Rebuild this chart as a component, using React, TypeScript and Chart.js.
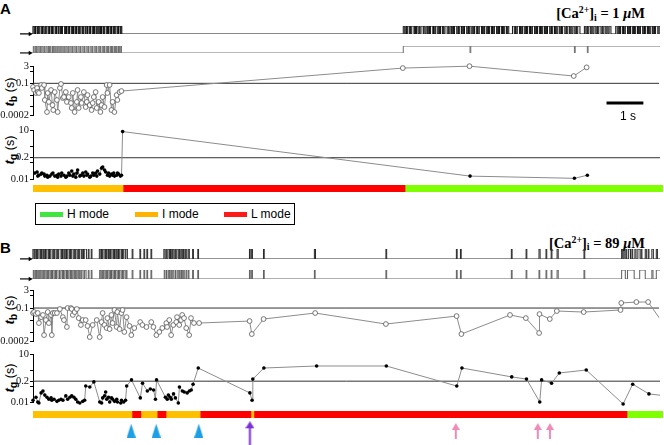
import React, { useEffect, useRef } from 'react';
import { Chart, registerables } from 'chart.js';

Chart.register(...registerables);

// ---------- time axis ----------
const XMAX = 17; // seconds across the plot width
const PLOT_LEFT = 33;
const PLOT_RIGHT_PAD = 1;
const ARROW_LEFT = 20;
const PX_PER_S = (664 - PLOT_LEFT - PLOT_RIGHT_PAD) / XMAX;
const TRACE_XMIN = -(PLOT_LEFT - ARROW_LEFT) / PX_PER_S;

// ---------- axis ticks ----------
const tbTicks = [3, 1, 0.1, 0.01, 0.001, 0.0002];
const tbLabels = [3, 0.1, 0.0002];
const tgTicks = [10, 1, 0.2, 0.1, 0.01];
const tgLabels = [10, 0.2, 0.01];
const tbThreshold = 0.1;
const tgThreshold = 0.2;

// ---------- modes ----------
const modeKeys = ['H', 'I', 'L'];
const modeNames = ['H mode', 'I mode', 'L mode'];
const modeBarColors: Record<string, string> = { H: '#7fff00', I: '#ffc000', L: '#ff0000' };
const modeLegendColors: Record<string, string> = { H: '#40e640', I: '#ffb300', L: '#ff1a1a' };

const aModeStarts = [0, 2.43, 10.04];
const aModeEnds = [2.43, 10.04, 17];
const aModeKinds = ['I', 'L', 'H'];

const bModeStarts = [0, 2.67, 2.91, 3.35, 3.59, 4.51, 5.88, 5.96, 16.03];
const bModeEnds = [2.67, 2.91, 3.35, 3.59, 4.51, 5.88, 5.96, 16.03, 17];
const bModeKinds = ['I', 'L', 'I', 'L', 'I', 'L', 'I', 'L', 'H'];

// ---------- markers under panel B ----------
const blueTriangleTimes = [2.67, 3.35, 4.51];
const purpleArrowTimes = [5.9];
const pinkArrowTimes = [11.5, 13.73, 14.06];

// ---------- scale bar ----------
const scaleBarStart = 15.57;
const scaleBarLength = 1; // s
const scaleBarLevel = 0.0021;

// ---------- single-channel traces: open intervals [start, end] (s) ----------
const aTrace1 = [
  [0.0, 0.03], [0.05, 0.07], [0.08, 0.12], [0.14, 0.16], [0.17, 0.22], [0.24, 0.26], [0.27, 0.3], [0.33, 0.35],
  [0.36, 0.41], [0.43, 0.45], [0.46, 0.5], [0.52, 0.53], [0.55, 0.6], [0.62, 0.64], [0.65, 0.69], [0.71, 0.75],
  [0.77, 0.78], [0.8, 0.86], [0.88, 0.9], [0.91, 0.95], [0.97, 0.99], [1.0, 1.05], [1.07, 1.09], [1.1, 1.14],
  [1.16, 1.18], [1.19, 1.23], [1.25, 1.27], [1.28, 1.33], [1.35, 1.36], [1.38, 1.42], [1.44, 1.47], [1.48, 1.52],
  [1.54, 1.56], [1.57, 1.62], [1.64, 1.65], [1.67, 1.71], [1.73, 1.76], [1.77, 1.81], [1.83, 1.85], [1.86, 1.9],
  [1.92, 1.93], [1.95, 2.0], [2.02, 2.04], [2.05, 2.09], [2.11, 2.13], [2.14, 2.18], [2.2, 2.22], [2.23, 2.28],
  [2.3, 2.32], [2.33, 2.37], [2.39, 2.41],
  [10.04, 10.08], [10.11, 10.13], [10.15, 10.2], [10.22, 10.24], [10.27, 10.33], [10.35, 10.37], [10.4, 10.44],
  [10.47, 10.49], [10.52, 10.58], [10.6, 10.63], [10.66, 10.7], [10.73, 10.75], [10.78, 10.84], [10.86, 10.88],
  [10.91, 10.96], [10.99, 11.02], [11.05, 11.1], [11.12, 11.14], [11.17, 11.23], [11.26, 11.28], [11.31, 11.35],
  [11.38, 11.4], [11.43, 11.49], [11.52, 11.54], [11.57, 11.62], [11.64, 11.67], [11.7, 11.76], [11.79, 11.81],
  [11.84, 11.88], [11.91, 11.94], [11.97, 12.02], [12.05, 12.07], [12.1, 12.16], [12.19, 12.21], [12.24, 12.29],
  [12.32, 12.35], [12.38, 12.43], [12.46, 12.48], [12.51, 12.57], [12.6, 12.62], [12.65, 12.7], [12.73, 12.76],
  [12.79, 12.84], [12.87, 12.9], [13.0, 13.05], [13.08, 13.1], [13.13, 13.19], [13.22, 13.24], [13.27, 13.32],
  [13.35, 13.38], [13.41, 13.46], [13.49, 13.51], [13.54, 13.6], [13.63, 13.65], [13.68, 13.73], [13.76, 13.79],
  [13.82, 13.87], [13.9, 13.92], [13.95, 14.01], [14.04, 14.06], [14.09, 14.14], [14.17, 14.2], [14.23, 14.28],
  [14.31, 14.33], [14.36, 14.42], [14.45, 14.47], [14.5, 14.55], [14.58, 14.61], [14.64, 14.69], [14.72, 14.74],
  [14.77, 14.83], [14.95, 14.99], [15.02, 15.04], [15.07, 15.12], [15.15, 15.18], [15.21, 15.26], [15.29, 15.31],
  [15.34, 15.4], [15.43, 15.45], [15.48, 15.53], [15.56, 15.59], [15.62, 15.67], [15.8, 15.84], [15.87, 15.9],
  [15.93, 15.98], [16.01, 16.03], [16.06, 16.12], [16.15, 16.17], [16.2, 16.25], [16.28, 16.31], [16.34, 16.39],
  [16.42, 16.44], [16.47, 16.53], [16.56, 16.58], [16.61, 16.66], [16.69, 16.72], [16.75, 16.8], [16.83, 16.85],
  [16.88, 16.94], [16.97, 17.0],
];

const aTrace2 = [
  [0.01, 0.03], [0.06, 0.08], [0.1, 0.11], [0.14, 0.17], [0.2, 0.21], [0.24, 0.27], [0.3, 0.31], [0.35, 0.38],
  [0.41, 0.42], [0.45, 0.48], [0.52, 0.53], [0.56, 0.59], [0.62, 0.63], [0.67, 0.7], [0.73, 0.74], [0.78, 0.81],
  [0.84, 0.85], [0.89, 0.92], [0.95, 0.96], [1.0, 1.03], [1.06, 1.07], [1.11, 1.14], [1.17, 1.18], [1.22, 1.25],
  [1.28, 1.29], [1.33, 1.36], [1.39, 1.4], [1.44, 1.47], [1.5, 1.51], [1.55, 1.58], [1.61, 1.62], [1.66, 1.69],
  [1.72, 1.73], [1.77, 1.8], [1.83, 1.84], [1.88, 1.91], [1.94, 1.95], [1.99, 2.02], [2.05, 2.06], [2.1, 2.13],
  [2.16, 2.17], [2.21, 2.24], [2.27, 2.28], [2.32, 2.35], [2.38, 2.4],
  [10.04, 11.85], [11.87, 14.68], [14.7, 15.03], [15.05, 17.5],
];

const bTrace1 = [
  [0.0, 0.03], [0.05, 0.08], [0.1, 0.12], [0.14, 0.19], [0.21, 0.23], [0.25, 0.29], [0.32, 0.34], [0.36, 0.41],
  [0.43, 0.45], [0.47, 0.52], [0.55, 0.57], [0.59, 0.63], [0.66, 0.68], [0.7, 0.76], [0.78, 0.8], [0.82, 0.86],
  [0.89, 0.91], [0.93, 0.98], [1.0, 1.02], [1.04, 1.09], [1.12, 1.14], [1.16, 1.2], [1.23, 1.25], [1.27, 1.32],
  [1.35, 1.37], [1.39, 1.45],
  [1.5, 1.52], [1.58, 1.6],
  [1.8, 1.84], [1.86, 1.88], [1.9, 1.95], [1.97, 1.99], [2.01, 2.05], [2.08, 2.1], [2.12, 2.17], [2.19, 2.21],
  [2.23, 2.27], [2.3, 2.32], [2.34, 2.39], [2.41, 2.43], [2.45, 2.5], [2.52, 2.56],
  [2.69, 2.71], [2.9, 2.92], [3.01, 3.03], [3.09, 3.11], [3.2, 3.22],
  [3.55, 3.58], [3.61, 3.63], [3.66, 3.7], [3.73, 3.75], [3.78, 3.82], [3.85, 3.87], [3.9, 3.94], [3.97, 3.99],
  [4.02, 4.05], [4.08, 4.1], [4.14, 4.17], [4.21, 4.24],
  [4.33, 4.35], [4.47, 4.49], [5.87, 5.89], [5.93, 5.95], [6.25, 6.27], [7.63, 7.66], [9.57, 9.59],
  [11.48, 11.5], [11.59, 11.61], [12.97, 12.99], [13.37, 13.39], [13.72, 13.75], [13.91, 13.93], [14.05, 14.07],
  [14.21, 14.24], [14.94, 14.96],
  [15.96, 15.99], [16.02, 16.05], [16.08, 16.1], [16.15, 16.2], [16.24, 16.26], [16.32, 16.35], [16.4, 16.46],
  [16.49, 16.51], [16.6, 16.63], [16.68, 16.7], [16.78, 16.82], [16.9, 16.93],
];

const bTrace2 = [
  [0.01, 0.03], [0.06, 0.08], [0.1, 0.13], [0.16, 0.17], [0.2, 0.24], [0.27, 0.28], [0.31, 0.35], [0.38, 0.39],
  [0.42, 0.46], [0.49, 0.5], [0.53, 0.57], [0.6, 0.61], [0.64, 0.68], [0.72, 0.73], [0.76, 0.8], [0.83, 0.84],
  [0.87, 0.91], [0.94, 0.95], [0.98, 1.02], [1.05, 1.06], [1.09, 1.13], [1.16, 1.17], [1.2, 1.24], [1.27, 1.28],
  [1.32, 1.36], [1.4, 1.44],
  [1.5, 1.52], [1.58, 1.6],
  [1.81, 1.84], [1.87, 1.88], [1.91, 1.95], [1.98, 1.99], [2.02, 2.06], [2.09, 2.1], [2.13, 2.17], [2.2, 2.21],
  [2.24, 2.28], [2.31, 2.32], [2.35, 2.39], [2.42, 2.43], [2.46, 2.5], [2.53, 2.55],
  [2.69, 2.71], [2.9, 2.92], [3.01, 3.03], [3.09, 3.11], [3.2, 3.22],
  [3.56, 3.58], [3.62, 3.63], [3.67, 3.7], [3.74, 3.75], [3.79, 3.82], [3.86, 3.87], [3.91, 3.94], [3.98, 3.99],
  [4.03, 4.05], [4.09, 4.1], [4.15, 4.17], [4.21, 4.23],
  [4.33, 4.35], [4.47, 4.49], [5.87, 5.89], [5.93, 5.95], [6.25, 6.27], [7.63, 7.65], [9.57, 9.59],
  [11.48, 11.5], [11.59, 11.61], [12.97, 12.99], [13.37, 13.39], [13.72, 13.74], [13.91, 13.93], [14.05, 14.07],
  [14.21, 14.24], [14.94, 14.96],
  [15.96, 16.06], [16.12, 16.3], [16.45, 16.6], [16.78, 16.81], [16.9, 17.5],
];

// ---------- burst (tb) and gap (tg) durations: [time (s), duration (s)] ----------
const aTb = [
  [0, 0.049], [0.03, 0.027], [0.08, 0.015], [0.11, 0.04], [0.13, 0.018], [0.16, 0.015], [0.22, 0.072], [0.24, 0.04],
  [0.3, 0.072], [0.32, 0.0038], [0.38, 0.00036], [0.4, 0.015], [0.43, 0.0026], [0.49, 0.027], [0.53, 0.0014],
  [0.55, 0.00053], [0.59, 0.018], [0.65, 0.0038], [0.67, 0.00036], [0.73, 0.04], [0.76, 0.088], [0.81, 0.0056],
  [0.84, 0.0068], [0.89, 0.018], [0.92, 0.0026], [0.97, 0.0068], [1.03, 0.0021], [1.05, 0.00079], [1.08, 0.015],
  [1.13, 0.00036], [1.19, 0.0026], [1.21, 0.027], [1.24, 0.00079], [1.3, 0.0068], [1.32, 0.0021], [1.38, 0.018],
  [1.43, 0.00096], [1.46, 0.0026], [1.48, 0.01], [1.54, 0.0014], [1.59, 0.00053], [1.62, 0.0021], [1.65, 0.0068],
  [1.7, 0.018], [1.73, 0.00079], [1.78, 0.0026], [1.83, 0.00036], [1.86, 0.0014], [1.89, 0.0068], [1.94, 0.00096],
  [2.0, 0.072], [2.02, 0.015], [2.08, 0.072], [2.13, 0.00053], [2.16, 0.0026], [2.21, 0.00036], [2.27, 0.01],
  [2.29, 0.0038], [2.35, 0.018], [2.4, 0.022],
  [10.04, 2.0], [11.85, 2.9], [14.68, 0.42], [15.03, 2.3],
];

const aTg = [
  [0.05, 0.023], [0.11, 0.027], [0.13, 0.015], [0.16, 0.017], [0.22, 0.02], [0.24, 0.023], [0.3, 0.02], [0.32, 0.015],
  [0.38, 0.017], [0.4, 0.013], [0.46, 0.015], [0.51, 0.02], [0.54, 0.023], [0.59, 0.015], [0.65, 0.017], [0.67, 0.013],
  [0.7, 0.02], [0.76, 0.015], [0.78, 0.023], [0.84, 0.017], [0.89, 0.013], [0.92, 0.015], [0.97, 0.023], [1.0, 0.017],
  [1.05, 0.031], [1.08, 0.015], [1.11, 0.02], [1.16, 0.013], [1.19, 0.023], [1.21, 0.035], [1.27, 0.015], [1.3, 0.017],
  [1.35, 0.023], [1.38, 0.015], [1.43, 0.027], [1.46, 0.017], [1.48, 0.02], [1.54, 0.013], [1.57, 0.015], [1.62, 0.023],
  [1.65, 0.017], [1.7, 0.023], [1.73, 0.015], [1.75, 0.031], [1.81, 0.02], [1.86, 0.046], [1.89, 0.054], [1.94, 0.035],
  [1.97, 0.027], [2.02, 0.017], [2.05, 0.023], [2.08, 0.015], [2.13, 0.02], [2.16, 0.017], [2.19, 0.023], [2.21, 0.015],
  [2.27, 0.017], [2.29, 0.023], [2.32, 0.02], [2.37, 0.015], [2.4, 0.017],
  [2.43, 8], [11.85, 0.015], [14.68, 0.011], [15.03, 0.017],
];

const bTb = [
  [0, 0.039], [0.03, 0.047], [0.08, 0.032], [0.13, 0.039], [0.16, 0.0059], [0.22, 0.018], [0.27, 0.027], [0.3, 0.00061],
  [0.35, 0.0104], [0.4, 0.047], [0.43, 0.0059], [0.49, 0.027], [0.51, 0.00061], [0.54, 0.039], [0.59, 0.039],
  [0.65, 0.039], [0.73, 0.083], [0.81, 0.018], [0.84, 0.0104], [0.92, 0.0028], [0.94, 0.1], [1.03, 0.1], [1.05, 0.083],
  [1.08, 0.027], [1.13, 0.047], [1.19, 0.083], [1.24, 0.015], [1.3, 0.0041], [1.35, 0.0104], [1.43, 0.0104],
  [1.48, 0.0034], [1.54, 0.00042], [1.62, 0.0041], [1.73, 0.0104], [1.81, 0.00042], [1.86, 0.0071], [1.89, 0.039],
  [1.94, 0.0041], [2.0, 0.0023], [2.02, 0.015], [2.08, 0.0019], [2.13, 0.027], [2.16, 0.0059], [2.21, 0.069],
  [2.27, 0.0028], [2.29, 0.047], [2.35, 0.0019], [2.4, 0.039], [2.43, 0.069], [2.48, 0.0011], [2.54, 0.018],
  [2.62, 0.0034], [2.67, 0.00061], [2.75, 0.0023], [2.91, 0.0071], [2.97, 0.0041], [3.08, 0.0028], [3.21, 0.0071],
  [3.27, 0.0028], [3.35, 0.00061], [3.43, 0.0011], [3.51, 0.0023], [3.62, 0.0059], [3.64, 0.0028], [3.7, 0.0104],
  [3.75, 0.00061], [3.81, 0.0041], [3.89, 0.0071], [3.91, 0.018], [3.97, 0.0041], [4.02, 0.0104], [4.05, 0.027],
  [4.1, 0.015], [4.16, 0.0023], [4.24, 0.00061], [4.29, 0.015], [4.37, 0.0059], [4.51, 0.0059],
  [5.88, 0.0086], [5.94, 0.00074], [6.26, 0.0126], [7.66, 0.039], [9.58, 0.0049], [11.5, 0.022], [11.63, 0.00074],
  [12.95, 0.027], [13.38, 0.015], [13.74, 0.0009], [13.75, 0.032], [14.03, 0.0126], [14.22, 0.057], [14.95, 0.047],
  [15.95, 0.069], [15.97, 0.26], [16.38, 0.31], [16.7, 0.31], [17.1, 0.006],
];

const bTg = [
  [0, 0.013], [0.08, 0.02], [0.13, 0.01], [0.16, 0.0087], [0.22, 0.037], [0.27, 0.049], [0.32, 0.027], [0.38, 0.02],
  [0.43, 0.015], [0.49, 0.018], [0.51, 0.013], [0.57, 0.015], [0.65, 0.011], [0.7, 0.013], [0.76, 0.015], [0.81, 0.013],
  [0.89, 0.024], [0.94, 0.015], [1.0, 0.02], [1.05, 0.024], [1.11, 0.02], [1.16, 0.015], [1.21, 0.01], [1.27, 0.0087],
  [1.35, 0.011], [1.4, 0.013], [1.43, 0.1], [1.54, 0.087], [1.65, 0.18], [1.81, 0.01], [1.86, 0.0087], [1.89, 0.018],
  [1.94, 0.024], [1.97, 0.042], [2.0, 0.015], [2.05, 0.02], [2.08, 0.01], [2.13, 0.018], [2.16, 0.015], [2.21, 0.011],
  [2.27, 0.015], [2.29, 0.01], [2.38, 0.0087], [2.4, 0.013], [2.46, 0.01], [2.51, 0.013], [2.54, 0.1], [2.67, 0.24],
  [2.91, 0.018], [2.97, 0.15], [3.1, 0.049], [3.18, 0.065], [3.27, 0.056], [3.32, 0.015], [3.35, 0.24], [3.59, 0.02],
  [3.64, 0.015], [3.67, 0.027], [3.72, 0.02], [3.75, 0.015], [3.81, 0.032], [3.86, 0.018], [3.94, 0.0087], [3.97, 0.087],
  [4.05, 0.049], [4.1, 0.042], [4.18, 0.037], [4.24, 0.049], [4.29, 0.056], [4.34, 0.13], [4.48, 1.33],
  [5.88, 0.037], [5.94, 0.013], [5.96, 0.27], [6.26, 1.33], [7.69, 1.78], [9.58, 1.78], [11.49, 0.1], [11.63, 1.33],
  [12.98, 0.37], [13.38, 0.27], [13.74, 0.01], [13.79, 0.24], [14.06, 0.15], [14.27, 0.65], [15.0, 1.0],
  [16.0, 0.0075], [16.26, 0.13], [16.7, 0.032], [17.1, 0.025],
];

// ---------- chart builders ----------
const baseOptions = (padding: any) => ({
  responsive: false,
  animation: false as const,
  events: [] as any[],
  layout: { padding },
  plugins: { legend: { display: false }, tooltip: { enabled: false } },
});

const arrowPoints = [TRACE_XMIN, -0.08];

function traceConfig(intervals: number[][], color: string) {
  const pts: { x: number; y: number }[] = [{ x: TRACE_XMIN, y: 0 }];
  intervals.forEach(([s, e]) => {
    pts.push({ x: s, y: 1 });
    pts.push({ x: e, y: 0 });
  });
  pts.push({ x: XMAX + 1, y: 0 });
  return {
    type: 'line',
    data: {
      datasets: [
        {
          data: arrowPoints.map((x) => ({ x, y: 0 })),
          borderColor: '#000',
          borderWidth: 1,
          pointRadius: [0, 2.6],
          pointStyle: 'triangle',
          rotation: 90,
          pointBackgroundColor: '#000',
          pointBorderWidth: 0,
          clip: false,
        },
        {
          data: pts,
          stepped: true,
          borderColor: color,
          borderWidth: 1,
          pointRadius: 0,
          fill: false,
        },
      ],
    },
    options: {
      ...baseOptions({ left: ARROW_LEFT, right: PLOT_RIGHT_PAD, top: 3, bottom: 3.5 }),
      scales: {
        x: { type: 'linear', min: TRACE_XMIN, max: XMAX, display: false },
        y: { type: 'linear', min: 0, max: 1, display: false },
      },
    },
  };
}

function logConfig(
  series: number[][],
  filled: boolean,
  min: number,
  max: number,
  ticks: number[],
  labels: number[],
  threshold: number,
  extra: any[] = []
) {
  return {
    type: 'line',
    data: {
      datasets: [
        {
          data: series.map(([x, y]) => ({ x, y })),
          borderColor: '#8c8c8c',
          borderWidth: 1,
          pointRadius: filled ? 1.8 : 2.4,
          pointBackgroundColor: filled ? '#000' : '#fff',
          pointBorderColor: filled ? '#000' : '#555',
          pointBorderWidth: filled ? 0 : 0.8,
          clip: { left: 4, right: 0, top: 5, bottom: 5 },
        },
        ...extra,
        {
          data: [
            { x: 0, y: threshold },
            { x: XMAX, y: threshold },
          ],
          borderColor: '#333',
          borderWidth: 1,
          pointRadius: 0,
        },
      ],
    },
    options: {
      ...baseOptions({ left: 0, right: PLOT_RIGHT_PAD, top: 8, bottom: 10 }),
      scales: {
        x: { type: 'linear', min: 0, max: XMAX, display: false },
        y: {
          type: 'logarithmic',
          position: 'left',
          min,
          max,
          afterBuildTicks: (s: any) => {
            s.ticks = ticks.map((v) => ({ value: v }));
          },
          afterFit: (s: any) => {
            s.width = PLOT_LEFT;
          },
          ticks: {
            autoSkip: false,
            padding: 1,
            color: '#111',
            font: { family: 'Liberation Serif', size: 10.5 },
            callback: (v: any) => (labels.includes(Number(v)) ? String(v) : ''),
          },
          grid: { drawOnChartArea: false, drawTicks: true, tickLength: 3, color: '#000' },
          border: { display: true, color: '#000', width: 1 },
        },
      },
    },
  };
}

function modeConfig(starts: number[], ends: number[], kinds: string[]) {
  return {
    type: 'bar',
    data: {
      labels: ['mode'],
      datasets: starts.map((s, i) => ({
        data: [[s, ends[i]]],
        backgroundColor: modeBarColors[kinds[i]],
        borderWidth: 0,
        grouped: false,
        barPercentage: 1,
        categoryPercentage: 1,
      })),
    },
    options: {
      ...baseOptions({ left: PLOT_LEFT, right: PLOT_RIGHT_PAD, top: 0, bottom: 0 }),
      indexAxis: 'y',
      scales: {
        x: { type: 'linear', min: 0, max: XMAX, display: false },
        y: { display: false },
      },
    },
  };
}

function makeShape(w: number, h: number, color: string, headH: number, shaftW: number) {
  const c = document.createElement('canvas');
  c.width = w;
  c.height = h;
  const ctx = c.getContext('2d')!;
  ctx.fillStyle = color;
  ctx.beginPath();
  ctx.moveTo(w / 2, 0);
  ctx.lineTo(w, headH);
  ctx.lineTo(0, headH);
  ctx.closePath();
  ctx.fill();
  if (shaftW > 0) ctx.fillRect(w / 2 - shaftW / 2, headH - 1, shaftW, h - headH + 1);
  return c;
}

function markerConfig() {
  const blue = makeShape(9, 14, '#1c9fe4', 14, 0);
  const purple = makeShape(9, 24, '#7b2fd8', 7, 2);
  const pink = makeShape(8, 16, '#f28ab6', 7, 2);
  const ds = (times: number[], y: number, style: HTMLCanvasElement) => ({
    data: times.map((x) => ({ x, y })),
    pointStyle: style,
    pointRadius: 5,
    clip: false,
  });
  return {
    type: 'scatter',
    data: {
      datasets: [ds(blueTriangleTimes, 0.64, blue), ds(purpleArrowTimes, 0.44, purple), ds(pinkArrowTimes, 0.62, pink)],
    },
    options: {
      ...baseOptions({ left: PLOT_LEFT, right: PLOT_RIGHT_PAD, top: 0, bottom: 0 }),
      scales: {
        x: { type: 'linear', min: 0, max: XMAX, display: false },
        y: { type: 'linear', min: 0, max: 1, display: false },
      },
    },
  };
}

const scaleBarDataset = {
  data: [
    { x: scaleBarStart, y: scaleBarLevel },
    { x: scaleBarStart + scaleBarLength, y: scaleBarLevel },
  ],
  borderColor: '#000',
  borderWidth: 3,
  pointRadius: 0,
};

// ---------- components ----------
function ChartCanvas({ top, height, build }: { top: number; height: number; build: () => any }) {
  const ref = useRef<HTMLCanvasElement | null>(null);
  useEffect(() => {
    if (!ref.current) return;
    const chart = new Chart(ref.current, build());
    return () => chart.destroy();
  }, []);
  return (
    <canvas
      ref={ref}
      width={664}
      height={height}
      style={{ position: 'absolute', left: 0, top, width: 664, height }}
    />
  );
}

function TraceChart({ topRow, baseRow, intervals, color }: any) {
  return <ChartCanvas top={topRow - 3} height={baseRow - topRow + 7} build={() => traceConfig(intervals, color)} />;
}

function LogChart({ areaTop, areaBottom, build }: any) {
  return <ChartCanvas top={areaTop - 8} height={areaBottom - areaTop + 18} build={build} />;
}

function YTitle({ cx, cy, sub }: { cx: number; cy: number; sub: string }) {
  return (
    <div
      style={{
        position: 'absolute',
        left: cx,
        top: cy,
        transform: 'translate(-50%,-50%) rotate(-90deg)',
        whiteSpace: 'nowrap',
        lineHeight: '14px',
        color: '#000',
      }}
    >
      <span style={{ fontFamily: 'Liberation Serif', fontStyle: 'italic', fontWeight: 'bold', fontSize: 15 }}>t</span>
      <span style={{ fontFamily: 'Liberation Sans', fontWeight: 'bold', fontSize: 10.5, position: 'relative', top: 3 }}>
        {sub}
      </span>
      <span style={{ fontFamily: 'Liberation Sans', fontSize: 12.5 }}> (s)</span>
    </div>
  );
}

function CaTitle({ top, value }: { top: number; value: string }) {
  return (
    <div
      style={{
        position: 'absolute',
        right: 19,
        top,
        fontFamily: 'Liberation Serif',
        fontWeight: 'bold',
        fontSize: 14.5,
        lineHeight: '14.5px',
        whiteSpace: 'nowrap',
        color: '#000',
      }}
    >
      [Ca<span style={{ fontSize: '0.68em', position: 'relative', top: '-0.5em' }}>2+</span>]
      <span style={{ fontSize: '0.68em', position: 'relative', top: '0.3em' }}>i</span> = {value}{' '}
      <i>μ</i>M
    </div>
  );
}

function PanelLetter({ top, letter }: { top: number; letter: string }) {
  return (
    <div
      style={{
        position: 'absolute',
        left: 0,
        top,
        fontFamily: 'Liberation Sans',
        fontWeight: 'bold',
        fontSize: 15,
        lineHeight: '15px',
        color: '#000',
      }}
    >
      {letter}
    </div>
  );
}

const legendSwatchLeft = [40, 135, 224];
const legendTextLeft = [67, 162, 251];

function Legend() {
  return (
    <>
      <div
        style={{
          position: 'absolute',
          left: 35,
          top: 203,
          width: 258,
          height: 20,
          border: '1px solid #000',
        }}
      />
      {modeKeys.map((k, i) => (
        <React.Fragment key={k}>
          <div
            style={{
              position: 'absolute',
              left: legendSwatchLeft[i],
              top: 212,
              width: 23,
              height: 5,
              background: modeLegendColors[k],
            }}
          />
          <div
            style={{
              position: 'absolute',
              left: legendTextLeft[i],
              top: 208,
              fontFamily: 'Liberation Sans',
              fontSize: 12,
              lineHeight: '12px',
              whiteSpace: 'nowrap',
              color: '#000',
            }}
          >
            {modeNames[i]}
          </div>
        </React.Fragment>
      ))}
    </>
  );
}

export default function App() {
  return (
    <div
      style={{
        position: 'absolute',
        left: 0,
        top: 0,
        width: 664,
        height: 445,
        overflow: 'hidden',
        background: '#fff',
      }}
    >
      <PanelLetter top={1} letter="A" />
      <CaTitle top={6} value="1" />
      <TraceChart topRow={25} baseRow={34} intervals={aTrace1} color="#111" />
      <TraceChart topRow={45} baseRow={53} intervals={aTrace2} color="#6e6e6e" />
      <YTitle cx={9} cy={92} sub="b" />
      <YTitle cx={9} cy={150} sub="g" />
      <LogChart
        areaTop={66}
        areaBottom={115}
        build={() => logConfig(aTb, false, 0.0002, 3, tbTicks, tbLabels, tbThreshold, [scaleBarDataset])}
      />
      <LogChart
        areaTop={130}
        areaBottom={179}
        build={() => logConfig(aTg, true, 0.01, 10, tgTicks, tgLabels, tgThreshold)}
      />
      <ChartCanvas top={185} height={7} build={() => modeConfig(aModeStarts, aModeEnds, aModeKinds)} />
      <div
        style={{
          position: 'absolute',
          left: 620,
          top: 110,
          fontFamily: 'Liberation Sans',
          fontSize: 12,
          lineHeight: '12px',
          color: '#000',
        }}
      >
        1 s
      </div>

      <Legend />

      <PanelLetter top={240} letter="B" />
      <CaTitle top={235.5} value="89" />
      <TraceChart topRow={248} baseRow={259} intervals={bTrace1} color="#262626" />
      <TraceChart topRow={269} baseRow={279} intervals={bTrace2} color="#5e5e5e" />
      <YTitle cx={9} cy={310} sub="b" />
      <YTitle cx={9} cy={378} sub="g" />
      <LogChart
        areaTop={290}
        areaBottom={341}
        build={() => logConfig(bTb, false, 0.0002, 3, tbTicks, tbLabels, tbThreshold)}
      />
      <LogChart
        areaTop={354}
        areaBottom={402}
        build={() => logConfig(bTg, true, 0.01, 10, tgTicks, tgLabels, tgThreshold)}
      />
      <ChartCanvas top={411} height={7} build={() => modeConfig(bModeStarts, bModeEnds, bModeKinds)} />
      <ChartCanvas top={420} height={25} build={markerConfig} />
    </div>
  );
}
